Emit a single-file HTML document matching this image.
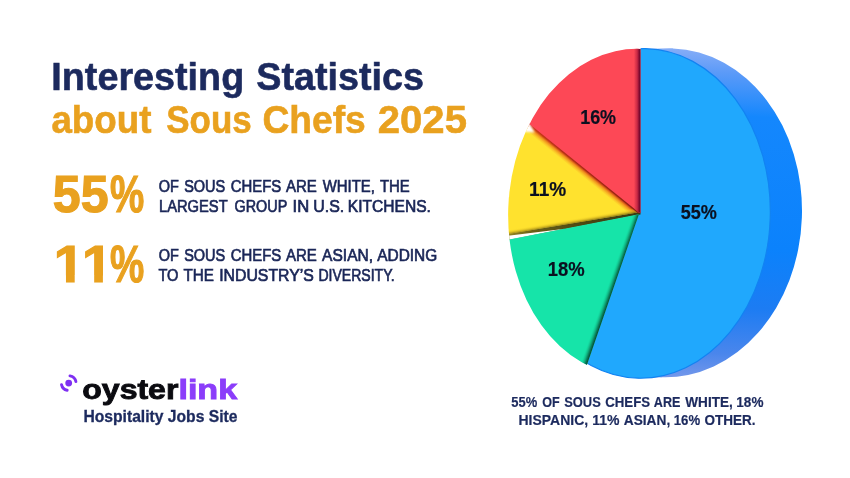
<!DOCTYPE html>
<html lang="en">
<head>
<meta charset="utf-8">
<title>Interesting Statistics about Sous Chefs 2025</title>
<style>
html,body{margin:0;padding:0;background:#fff;}
body{width:850px;height:478px;overflow:hidden;position:relative;font-family:"Liberation Sans",sans-serif;}
svg{position:absolute;left:0;top:0;display:block;}
text{font-family:"Liberation Sans",sans-serif;}
</style>
</head>
<body>
<svg width="850" height="478" viewBox="0 0 850 478">
<defs>
<linearGradient id="side" gradientUnits="userSpaceOnUse" x1="0" y1="48" x2="0" y2="378">
<stop offset="0" stop-color="#86adf7"/>
<stop offset="0.07" stop-color="#5b9af8"/>
<stop offset="0.2" stop-color="#1487fd"/>
<stop offset="0.6" stop-color="#0b82fc"/>
<stop offset="0.78" stop-color="#1c7cf3"/>
<stop offset="0.92" stop-color="#4a86ec"/>
<stop offset="1" stop-color="#7598ea"/>
</linearGradient>
<clipPath id="blueclip"><path d="M640.5,40 L850,40 L850,478 L547.4,478 L638.9,214 L640.5,213 Z"/></clipPath>
<clipPath id="leftclip"><ellipse cx="634.71" cy="212.5" rx="126.54" ry="163.71" transform="rotate(1.89 634.71 212.5)"/></clipPath>
<linearGradient id="redsh" gradientUnits="userSpaceOnUse" x1="634" y1="0" x2="640.5" y2="0"><stop offset="0" stop-color="#8c0d33" stop-opacity="0"/><stop offset="0.45" stop-color="#a8153a" stop-opacity="0.55"/><stop offset="0.8" stop-color="#7d0a30" stop-opacity="1"/><stop offset="1" stop-color="#6d0a30" stop-opacity="1"/></linearGradient>
<linearGradient id="yeltop" gradientUnits="userSpaceOnUse" x1="530" y1="124.2" x2="525.3" y2="130"><stop offset="0" stop-color="#bf3018"/><stop offset="0.22" stop-color="#d04a18"/><stop offset="0.45" stop-color="#f0901e"/><stop offset="0.75" stop-color="#fbc428"/><stop offset="1" stop-color="#ffe22e"/></linearGradient>
<linearGradient id="yelbot" gradientUnits="userSpaceOnUse" x1="508.8" y1="234.4" x2="508" y2="229.7"><stop offset="0" stop-color="#7a6c14" stop-opacity="0.95"/><stop offset="0.3" stop-color="#b89c1a" stop-opacity="0.7"/><stop offset="0.65" stop-color="#e6c622" stop-opacity="0.4"/><stop offset="1" stop-color="#ffe22e" stop-opacity="0"/></linearGradient>
<linearGradient id="ygband" gradientUnits="userSpaceOnUse" x1="505" y1="0" x2="640" y2="0"><stop offset="0" stop-color="#9a8a20"/><stop offset="0.2" stop-color="#6a6018"/><stop offset="0.6" stop-color="#4a4612"/><stop offset="1" stop-color="#3a3a12"/></linearGradient>
<linearGradient id="rededge" gradientUnits="userSpaceOnUse" x1="529.6" y1="124.1" x2="639" y2="212.5"><stop offset="0" stop-color="#b02c14" stop-opacity="0"/><stop offset="0.3" stop-color="#a82a14" stop-opacity="0.6"/><stop offset="1" stop-color="#8a2412" stop-opacity="1"/></linearGradient>
<filter id="b1" x="-30%" y="-30%" width="160%" height="160%"><feGaussianBlur stdDeviation="0.8"/></filter>
<filter id="b0" x="-20%" y="-20%" width="140%" height="140%"><feGaussianBlur stdDeviation="0.5"/></filter>
<linearGradient id="grnsh" gradientUnits="userSpaceOnUse" x1="638.9" y1="214.3" x2="633.2" y2="212.3"><stop offset="0" stop-color="#06573e" stop-opacity="1"/><stop offset="0.25" stop-color="#08704f" stop-opacity="0.8"/><stop offset="0.6" stop-color="#0c9a6c" stop-opacity="0.4"/><stop offset="1" stop-color="#16e4a9" stop-opacity="0"/></linearGradient>
</defs>

<!-- pie -->
<g id="pie">
<g clip-path="url(#blueclip)">
<g fill="url(#side)">
<ellipse cx="667.34" cy="212.85" rx="134.62" ry="164.39" transform="rotate(1.94 667.34 212.85)"/>
<path d="M645.8,48.7 L672.9,48.55 L661.8,377.15 L638.1,378.2 Z"/>
</g>
<ellipse cx="641.95" cy="213.46" rx="128.38" ry="164.79" transform="rotate(1.34 641.95 213.46)" fill="#20a8fd" stroke="#1283f2" stroke-width="1.2"/>
</g>
<g clip-path="url(#leftclip)">
<!-- yellow -->
<path fill="url(#ygband)" d="M490,236.5 L497.3,235.4 L633,212.7 L640.5,212.6 L640.5,214.6 L497.7,242.3 L490,243.5 Z"/>
<path fill="#ffffff" d="M490,238.1 L505,236.2 L565,228.7 L497.7,241.9 L490,243.4 Z"/>
<path fill="url(#yeltop)" d="M640,212 L508,105 L490,105 L490,237.1 L497.3,235.9 L633,213.2 Z"/>
<path fill="url(#yelbot)" d="M640,212 L508,105 L490,105 L490,237.1 L497.3,235.9 L633,213.2 Z"/>
<path d="M507.7,106.4 L639,212.5" stroke="url(#rededge)" stroke-width="2.6" fill="none" filter="url(#b0)"/>
<path fill="#ffffff" filter="url(#b1)" d="M528.6,121.5 L523,131.5 L534.5,132.6 Z"/>
<!-- red -->
<path fill="#fd4856" d="M640.5,213 L640.5,40 L500,40 L500,100 L507.7,106.4 L639,212.5 Z"/>
<path fill="url(#redsh)" d="M640.5,40 L633,40 L633,207.6 L639,212.5 L640.5,213 Z"/>
<!-- green -->
<path fill="#16e4a9" d="M638.9,214.3 L497.7,241.8 L490,243 L490,400 L574,400 L579.9,385.3 Z"/>
<path fill="url(#grnsh)" d="M638.9,214.3 L497.7,241.8 L490,243 L490,400 L574,400 L579.9,385.3 Z"/>
</g>
</g>

<!-- caption -->

<!-- logo -->
<g fill="none" stroke="#7f30f2" stroke-width="2.9" stroke-linecap="round">
<path d="M69.98,375.86 A7.35,7.35 0 0 1 75.89,381.57"/>
<path d="M61.51,384.63 A7.35,7.35 0 0 0 67.17,390.29"/>
</g>
<circle cx="68.7" cy="383.1" r="3.4" fill="#7f30f2"/>
<text y="90.2" font-size="39.5" font-weight="700" fill="#1c2a5e" stroke="#1c2a5e" stroke-width="0.6"><tspan x="51.34" textLength="192.87" lengthAdjust="spacingAndGlyphs">Interesting</tspan> <tspan x="256.31" textLength="167.72" lengthAdjust="spacingAndGlyphs">Statistics</tspan></text>
<text y="133.2" font-size="39.5" font-weight="700" fill="#e9a11f" stroke="#e9a11f" stroke-width="0.6"><tspan x="51.43" textLength="99.95" lengthAdjust="spacingAndGlyphs">about</tspan> <tspan x="166.25" textLength="85.46" lengthAdjust="spacingAndGlyphs">Sous</tspan> <tspan x="262.44" textLength="103.37" lengthAdjust="spacingAndGlyphs">Chefs</tspan> <tspan x="377.85" textLength="89.05" lengthAdjust="spacingAndGlyphs">2025</tspan></text>
<text y="212.0" font-size="51" font-weight="700" fill="#e9a11f" stroke="#e9a11f" stroke-width="1.2"><tspan x="52.82" textLength="55.73" lengthAdjust="spacingAndGlyphs">55</tspan><tspan x="109.90" textLength="34.25" lengthAdjust="spacingAndGlyphs">%</tspan></text>
<text y="191.5" font-size="16" font-weight="400" fill="#1a2657" stroke="#1a2657" stroke-width="0.65"><tspan x="158.65" textLength="20.10" lengthAdjust="spacingAndGlyphs">OF</tspan> <tspan x="184.17" textLength="41.11" lengthAdjust="spacingAndGlyphs">SOUS</tspan> <tspan x="230.73" textLength="50.58" lengthAdjust="spacingAndGlyphs">CHEFS</tspan> <tspan x="286.02" textLength="30.88" lengthAdjust="spacingAndGlyphs">ARE</tspan> <tspan x="322.72" textLength="52.16" lengthAdjust="spacingAndGlyphs">WHITE,</tspan> <tspan x="379.89" textLength="29.81" lengthAdjust="spacingAndGlyphs">THE</tspan></text>
<text y="211.7" font-size="16" font-weight="400" fill="#1a2657" stroke="#1a2657" stroke-width="0.65"><tspan x="158.98" textLength="68.45" lengthAdjust="spacingAndGlyphs">LARGEST</tspan> <tspan x="234.55" textLength="52.42" lengthAdjust="spacingAndGlyphs">GROUP</tspan> <tspan x="292.63" textLength="16.60" lengthAdjust="spacingAndGlyphs">IN</tspan> <tspan x="313.23" textLength="30.98" lengthAdjust="spacingAndGlyphs">U.S.</tspan> <tspan x="347.81" textLength="83.07" lengthAdjust="spacingAndGlyphs">KITCHENS.</tspan></text>
<text y="281.9" font-size="51" font-weight="700" fill="#e9a11f" stroke="#e9a11f" stroke-width="1.2"><tspan x="53.75" textLength="30.55" lengthAdjust="spacingAndGlyphs">1</tspan><tspan x="81.95" textLength="30.55" lengthAdjust="spacingAndGlyphs">1</tspan><tspan x="109.90" textLength="34.25" lengthAdjust="spacingAndGlyphs">%</tspan></text>
<text y="261.2" font-size="16" font-weight="400" fill="#1a2657" stroke="#1a2657" stroke-width="0.65"><tspan x="158.65" textLength="20.10" lengthAdjust="spacingAndGlyphs">OF</tspan> <tspan x="184.17" textLength="41.11" lengthAdjust="spacingAndGlyphs">SOUS</tspan> <tspan x="230.73" textLength="50.58" lengthAdjust="spacingAndGlyphs">CHEFS</tspan> <tspan x="286.02" textLength="30.88" lengthAdjust="spacingAndGlyphs">ARE</tspan> <tspan x="322.12" textLength="50.91" lengthAdjust="spacingAndGlyphs">ASIAN,</tspan> <tspan x="377.22" textLength="60.00" lengthAdjust="spacingAndGlyphs">ADDING</tspan></text>
<text y="281.3" font-size="16" font-weight="400" fill="#1a2657" stroke="#1a2657" stroke-width="0.65"><tspan x="158.40" textLength="20.01" lengthAdjust="spacingAndGlyphs">TO</tspan> <tspan x="183.39" textLength="30.43" lengthAdjust="spacingAndGlyphs">THE</tspan> <tspan x="219.19" textLength="94.65" lengthAdjust="spacingAndGlyphs">INDUSTRY’S</tspan> <tspan x="318.43" textLength="76.22" lengthAdjust="spacingAndGlyphs">DIVERSITY.</tspan></text>
<text y="123.8" font-size="20" font-weight="700" fill="#0b1020" stroke="#0b1020" stroke-width="0.2"><tspan x="580.18" textLength="35.87" lengthAdjust="spacingAndGlyphs">16%</tspan></text>
<text y="195.6" font-size="20" font-weight="700" fill="#0b1020" stroke="#0b1020" stroke-width="0.2"><tspan x="529.11" textLength="37.06" lengthAdjust="spacingAndGlyphs">11%</tspan></text>
<text y="275.7" font-size="20" font-weight="700" fill="#0b1020" stroke="#0b1020" stroke-width="0.2"><tspan x="547.85" textLength="36.91" lengthAdjust="spacingAndGlyphs">18%</tspan></text>
<text y="218.7" font-size="20" font-weight="700" fill="#0b1020" stroke="#0b1020" stroke-width="0.2"><tspan x="680.72" textLength="36.19" lengthAdjust="spacingAndGlyphs">55%</tspan></text>
<text y="406.7" font-size="14.5" font-weight="700" fill="#1c2a5e" stroke="#1c2a5e" stroke-width="0.2"><tspan x="511.30" textLength="25.89" lengthAdjust="spacingAndGlyphs">55%</tspan> <tspan x="542.31" textLength="17.40" lengthAdjust="spacingAndGlyphs">OF</tspan> <tspan x="564.20" textLength="36.54" lengthAdjust="spacingAndGlyphs">SOUS</tspan> <tspan x="605.19" textLength="44.86" lengthAdjust="spacingAndGlyphs">CHEFS</tspan> <tspan x="653.80" textLength="26.63" lengthAdjust="spacingAndGlyphs">ARE</tspan> <tspan x="685.30" textLength="47.50" lengthAdjust="spacingAndGlyphs">WHITE,</tspan> <tspan x="736.36" textLength="27.04" lengthAdjust="spacingAndGlyphs">18%</tspan></text>
<text y="425.2" font-size="14.5" font-weight="700" fill="#1c2a5e" stroke="#1c2a5e" stroke-width="0.2"><tspan x="518.53" textLength="69.60" lengthAdjust="spacingAndGlyphs">HISPANIC,</tspan> <tspan x="592.32" textLength="27.27" lengthAdjust="spacingAndGlyphs">11%</tspan> <tspan x="623.79" textLength="46.42" lengthAdjust="spacingAndGlyphs">ASIAN,</tspan> <tspan x="673.78" textLength="26.31" lengthAdjust="spacingAndGlyphs">16%</tspan> <tspan x="704.58" textLength="50.92" lengthAdjust="spacingAndGlyphs">OTHER.</tspan></text>
<text y="398.9" font-size="28.5" font-weight="700" stroke-width="0.9"><tspan x="82.25" textLength="96.15" lengthAdjust="spacingAndGlyphs" fill="#0b0b10" stroke="#0b0b10">oyster</tspan><tspan x="178.42" textLength="58.82" lengthAdjust="spacingAndGlyphs" fill="#8b3dfa" stroke="#8b3dfa">link</tspan></text>
<text y="421.7" font-size="15.6" font-weight="700" fill="#1c2a5e" stroke="#1c2a5e" stroke-width="0.3"><tspan x="83.47" textLength="153.97" lengthAdjust="spacingAndGlyphs">Hospitality Jobs Site</tspan></text>
<rect x="55.01" y="275.50" width="10.96" height="7.80" fill="#fff"/>
<rect x="74.70" y="275.50" width="10.26" height="7.80" fill="#fff"/>
<rect x="83.21" y="275.50" width="10.96" height="7.80" fill="#fff"/>
<rect x="102.90" y="275.50" width="10.26" height="7.80" fill="#fff"/>
</svg>
</body>
</html>
